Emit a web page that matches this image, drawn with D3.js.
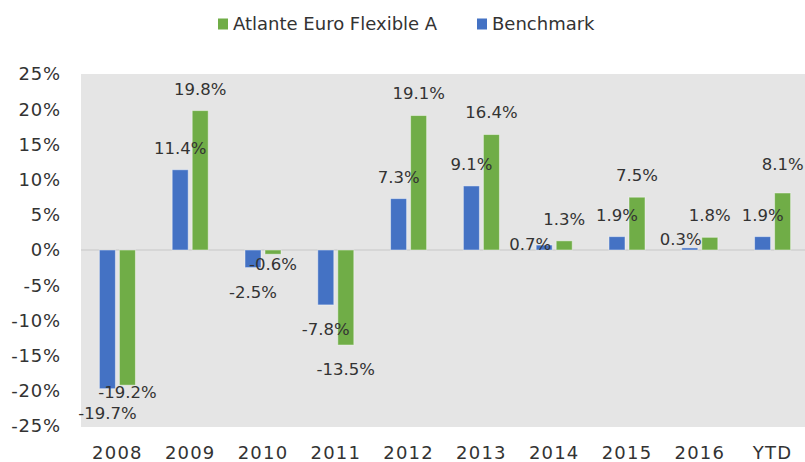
<!DOCTYPE html>
<html>
<head>
<meta charset="utf-8">
<script src="https://cdn.jsdelivr.net/npm/d3@7"></script>
<style>
  body { margin: 0; background: #fff; }
  text { font-family: "DejaVu Sans", sans-serif; fill: #333; }
</style>
</head>
<body>
<div id="chart"></div>
<script>

const categories = ["2008", "2009", "2010", "2011", "2012", "2013", "2014", "2015", "2016", "YTD"];
const seriesNames = ["Benchmark", "Atlante Euro Flexible A"];
const benchmark = [-19.7, 11.4, -2.5, -7.8, 7.3, 9.1, 0.7, 1.9, 0.3, 1.9];
const atlante = [-19.2, 19.8, -0.6, -13.5, 19.1, 16.4, 1.3, 7.5, 1.8, 8.1];
const yTicks = [-25, -20, -15, -10, -5, 0, 5, 10, 15, 20, 25];

// labels that were moved by hand in the original so they don't collide
const labelNudge = {
  "2008|Atlante Euro Flexible A": [0, -17],
  "2010|Atlante Euro Flexible A": [0, -14],
  "2014|Benchmark": [-14, 21],
  "2016|Benchmark": [-9, 13],
  "YTD|Atlante Euro Flexible A": [0, -7]
};

const width = 805;
const height = 462;
const marginTop = 74;
const marginBottom = 35;
const marginLeft = 81;
const plotRight = 809;

const color = d3.scaleOrdinal()
  .domain(seriesNames)
  .range(["#4472c4", "#70ad47"]);

const rows = categories.map((c, i) => ({
  cat: c,
  values: [
    { series: seriesNames[0], value: benchmark[i] },
    { series: seriesNames[1], value: atlante[i] }
  ]
}));

const x0 = d3.scaleBand()
  .domain(categories)
  .range([marginLeft, plotRight])
  .paddingInner(0.45)
  .paddingOuter(0.225);

const x1 = d3.scaleBand()
  .domain(seriesNames)
  .range([0, x0.bandwidth()])
  .paddingInner(0.2)
  .paddingOuter(0.1);

const y = d3.scaleLinear()
  .domain([-25, 25])
  .range([height - marginBottom - 1, marginTop]);

const svg = d3.select("#chart").append("svg")
  .attr("width", width)
  .attr("height", height);

// plot background
svg.append("rect")
  .attr("x", marginLeft)
  .attr("y", y(25))
  .attr("width", plotRight - marginLeft)
  .attr("height", y(-25) - y(25) + 1)
  .attr("fill", "#e5e5e5");

// zero line
svg.append("line")
  .attr("x1", marginLeft)
  .attr("x2", plotRight)
  .attr("y1", y(0))
  .attr("y2", y(0))
  .attr("stroke", "#d6d6d6")
  .attr("stroke-width", 2);

// y axis labels
svg.append("g")
  .selectAll("text")
  .data(yTicks)
  .join("text")
  .attr("x", 61)
  .attr("y", d => y(d))
  .attr("dy", "0.36em")
  .attr("text-anchor", "end")
  .attr("font-size", 18)
  .attr("letter-spacing", 0.8)
  .text(d => d + "%");

// x axis labels
svg.append("g")
  .selectAll("text")
  .data(categories)
  .join("text")
  .attr("x", d => x0(d) + x0.bandwidth() / 2)
  .attr("y", 453)
  .attr("dy", "0.36em")
  .attr("text-anchor", "middle")
  .attr("font-size", 18)
  .attr("letter-spacing", 1.2)
  .text(d => d);

const group = svg.append("g")
  .selectAll("g")
  .data(rows)
  .join("g")
  .attr("transform", d => `translate(${x0(d.cat)},0)`);

group.selectAll("rect")
  .data(d => d.values)
  .join("rect")
  .attr("x", d => x1(d.series))
  .attr("y", d => y(Math.max(0, d.value)))
  .attr("width", x1.bandwidth())
  .attr("height", d => Math.abs(y(d.value) - y(0)))
  .attr("fill", d => color(d.series))
  .attr("stroke", "rgba(255,255,255,0.45)")
  .attr("stroke-width", 1);

// data labels
group.selectAll("text")
  .data(d => d.values.map(v => ({ ...v, cat: d.cat })))
  .join("text")
  .attr("x", d => x1(d.series) + x1.bandwidth() / 2 + (labelNudge[d.cat + "|" + d.series] || [0, 0])[0])
  .attr("y", d => (d.value >= 0 ? y(d.value) - 22 : y(d.value) + 24) + (labelNudge[d.cat + "|" + d.series] || [0, 0])[1])
  .attr("dy", "0.36em")
  .attr("text-anchor", "middle")
  .attr("font-size", 16.5)
  .text(d => d.value.toFixed(1) + "%");

// legend
const legendItems = [seriesNames[1], seriesNames[0]];
const legendX = [218, 477];
const legend = svg.append("g")
  .selectAll("g")
  .data(legendItems)
  .join("g")
  .attr("transform", (d, i) => `translate(${legendX[i]},24)`);

legend.append("rect")
  .attr("x", 0)
  .attr("y", -5.5)
  .attr("width", 10)
  .attr("height", 11)
  .attr("fill", d => color(d));

legend.append("text")
  .attr("x", 15)
  .attr("dy", "0.36em")
  .attr("font-family", "Roboto, sans-serif")
  .attr("font-size", 18)
  .text(d => d);

</script>
</body>
</html>
